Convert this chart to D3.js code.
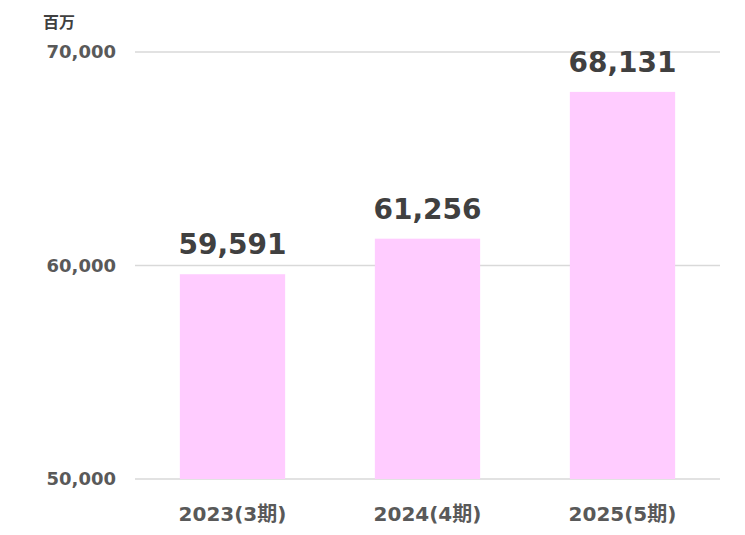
<!DOCTYPE html>
<html>
<head>
<meta charset="utf-8">
<script src="https://cdn.jsdelivr.net/npm/d3@7"></script>
<style>
  body { margin: 0; background: #fff; }
  svg { display: block; }
  text { font-family: "DejaVu Sans", "Noto Sans CJK JP", sans-serif; font-weight: bold; }
</style>
</head>
<body>
<svg id="plot"></svg>
<script>
// Data
const categories = ["2023(3期)", "2024(4期)", "2025(5期)"];
const values = [59591, 61256, 68131];
const yTicks = [50000, 60000, 70000];
const unitLabel = "百万";

const W = 745, H = 535;
const margin = {top: 52, right: 25, bottom: 56, left: 135};
const width = W - margin.left - margin.right,
      height = H - margin.top - margin.bottom;

const svg = d3.select("#plot")
    .attr("width", W)
    .attr("height", H);

const g = svg.append("g")
    .attr("transform", "translate(" + margin.left + "," + margin.top + ")");

const x = d3.scaleBand()
    .domain(categories)
    .range([0, width])
    .paddingInner(0.46)
    .paddingOuter(0.23);

const y = d3.scaleLinear()
    .domain([50000, 70000])
    .range([height, 0]);

// gridlines
g.selectAll(".grid")
    .data(yTicks)
  .enter().append("line")
    .attr("x1", 0)
    .attr("x2", width)
    .attr("y1", d => y(d))
    .attr("y2", d => y(d))
    .attr("stroke", "#d9d9d9")
    .attr("stroke-width", 1.5);

// y axis labels
const yAxis = g.append("g")
    .call(d3.axisLeft(y).tickValues(yTicks).tickFormat(d3.format(",")).tickSize(0).tickPadding(19));
yAxis.select(".domain").remove();
yAxis.selectAll("text")
    .attr("fill", "#595959")
    .style("font-size", "18px");

// bars
g.selectAll(".bar")
    .data(values)
  .enter().append("rect")
    .attr("class", "bar")
    .attr("x", (d, i) => x(categories[i]))
    .attr("width", x.bandwidth())
    .attr("y", d => y(d))
    .attr("height", d => height - y(d))
    .attr("fill", "#ffccff");

// value labels
g.selectAll(".val")
    .data(values)
  .enter().append("text")
    .attr("x", (d, i) => x(categories[i]) + x.bandwidth() / 2)
    .attr("y", d => y(d) - 20)
    .attr("text-anchor", "middle")
    .attr("fill", "#404040")
    .style("font-size", "28px")
    .text(d => d3.format(",")(d));

// x axis labels
const xAxis = g.append("g")
    .attr("transform", "translate(0," + height + ")")
    .call(d3.axisBottom(x).tickSize(0).tickPadding(28));
xAxis.select(".domain").remove();
xAxis.selectAll("text")
    .attr("fill", "#595959")
    .style("font-size", "20px");

// unit label
svg.append("text")
    .attr("x", 43)
    .attr("y", 28)
    .attr("fill", "#404040")
    .style("font-size", "16px")
    .text(unitLabel);
</script>
</body>
</html>
